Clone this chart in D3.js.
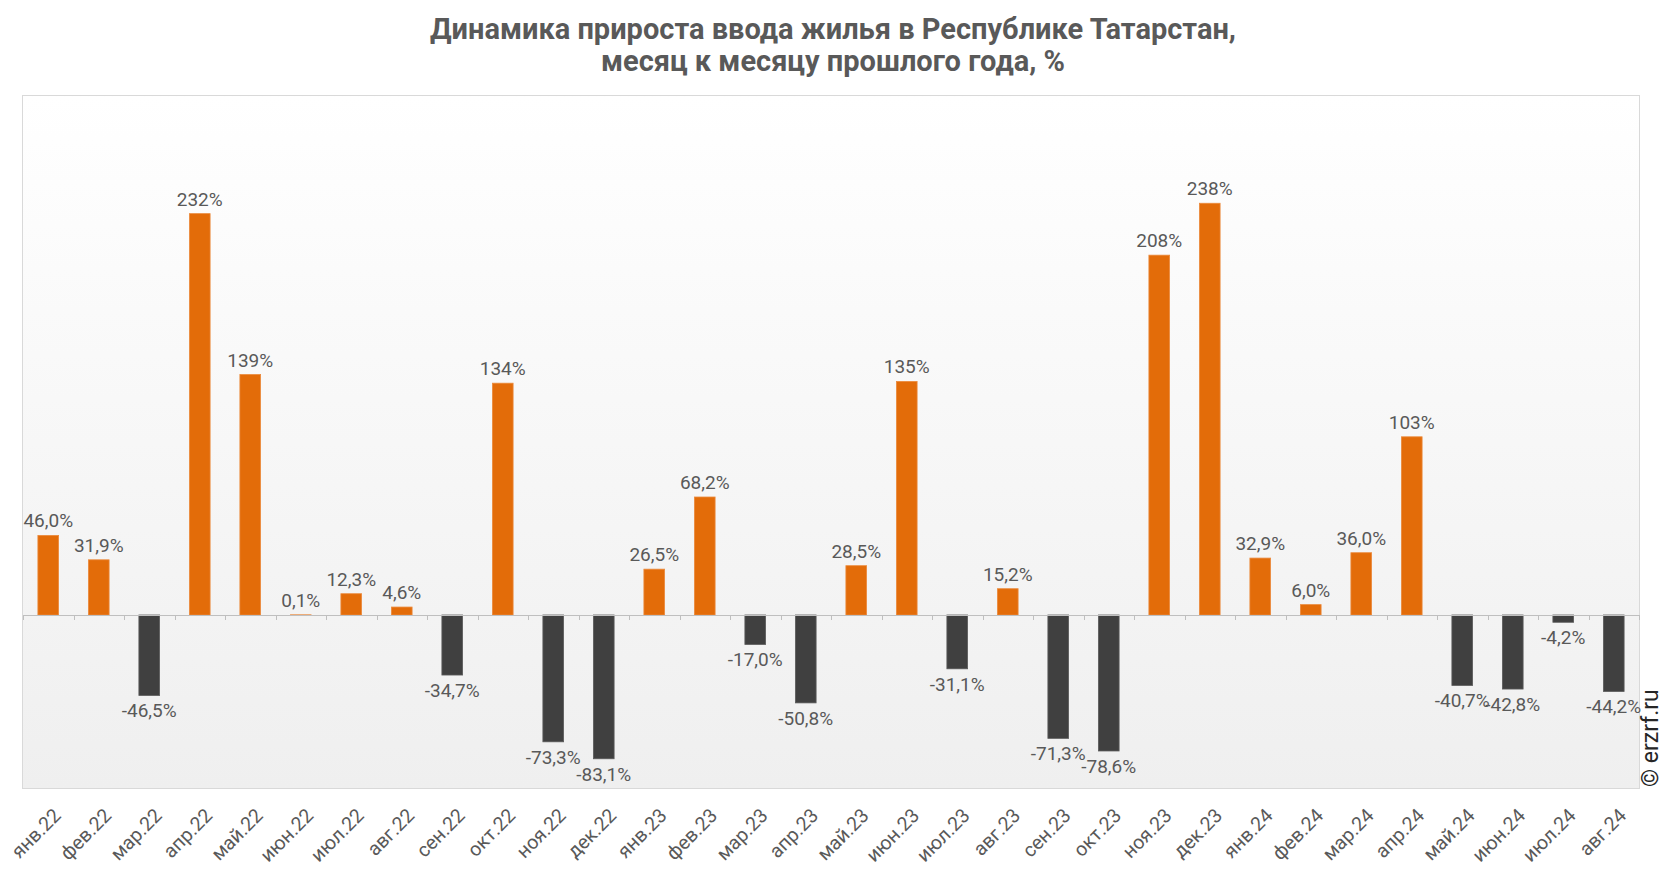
<!DOCTYPE html>
<html><head><meta charset="utf-8">
<script src="https://cdn.jsdelivr.net/npm/d3@7"></script>
<style>html,body{margin:0;padding:0;background:#fff;}svg{display:block;font-family:Roboto,"Noto Sans",sans-serif;}</style>
</head><body>
<svg id="chart" width="1666" height="872"></svg>
<script>
const categories = ["янв.22","фев.22","мар.22","апр.22","май.22","июн.22","июл.22","авг.22","сен.22","окт.22","ноя.22","дек.22",
"янв.23","фев.23","мар.23","апр.23","май.23","июн.23","июл.23","авг.23","сен.23","окт.23","ноя.23","дек.23",
"янв.24","фев.24","мар.24","апр.24","май.24","июн.24","июл.24","авг.24"];
const values = [46.0,31.9,-46.5,232,139,0.1,12.3,4.6,-34.7,134,-73.3,-83.1,
26.5,68.2,-17.0,-50.8,28.5,135,-31.1,15.2,-71.3,-78.6,208,238,
32.9,6.0,36.0,103,-40.7,-42.8,-4.2,-44.2];
const titleLines = ["Динамика прироста ввода жилья в Республике Татарстан,","месяц к месяцу прошлого года, %"];
const yDomain = [-100, 300];

const svg = d3.select("#chart");
const plot = {left: 23, right: 1639, top: 96, bottom: 788};

const defs = svg.append("defs");
const grad = defs.append("linearGradient").attr("id","bg").attr("x1",0).attr("y1",0).attr("x2",0).attr("y2",1);
grad.append("stop").attr("offset","0%").attr("stop-color","#ffffff");
grad.append("stop").attr("offset","100%").attr("stop-color","#efefef");

svg.append("rect").attr("x",plot.left-0.5).attr("y",plot.top-0.5)
  .attr("width",plot.right-plot.left+1).attr("height",plot.bottom-plot.top+1)
  .attr("fill","url(#bg)").attr("stroke","#d9d9d9").attr("stroke-width",1);

const x = d3.scaleBand().domain(categories).range([plot.left, plot.right]).paddingInner(0.59).paddingOuter(0.295);
const y = d3.scaleLinear().domain(yDomain).range([plot.bottom, plot.top]);

// bars
svg.append("g").selectAll("rect").data(values).join("rect")
  .attr("x",(d,i)=>x(categories[i]))
  .attr("width",x.bandwidth())
  .attr("y",d=>y(Math.max(0,d)))
  .attr("height",d=>Math.abs(y(d)-y(0)))
  .attr("fill",d=>d>=0?"#e36c09":"#404040")
  .attr("stroke",d=>d>=0?"#eb8a3c":"#5a5a5a").attr("stroke-width",0.8);

// zero axis with tick marks at category boundaries
const step = x.step();
const axisG = svg.append("g");
axisG.append("line").attr("x1",plot.left).attr("x2",plot.right).attr("y1",y(0)+0.5).attr("y2",y(0)+0.5)
  .attr("stroke","#bfbfbf").attr("stroke-width",1);
axisG.selectAll("line.tk").data(d3.range(categories.length+1)).join("line").attr("class","tk")
  .attr("x1",i=>Math.round(plot.left+i*step)+0.5).attr("x2",i=>Math.round(plot.left+i*step)+0.5)
  .attr("y1",y(0)).attr("y2",y(0)+5).attr("stroke","#bfbfbf").attr("stroke-width",1);

// value labels
const fmt = v => {
  const a = Math.abs(v);
  const s = a >= 100 ? d3.format(".0f")(v) : d3.format(".1f")(v);
  return s.replace(".",",").replace("−","-") + "%";
};
svg.append("g").selectAll("text").data(values).join("text")
  .attr("x",(d,i)=>x(categories[i])+x.bandwidth()/2)
  .attr("y",d=>d>=0 ? y(d)-8 : y(d)+22)
  .attr("text-anchor","middle")
  .attr("font-size",19).attr("fill","#595959")
  .text(d=>fmt(d));

// x category labels
svg.append("g").selectAll("text").data(categories).join("text")
  .attr("transform",d=>`translate(${x(d)+x.bandwidth()/2+4},${plot.bottom+19}) rotate(-45)`)
  .attr("text-anchor","end").attr("dy","0.71em")
  .attr("font-size",19.5).attr("fill","#595959")
  .text(d=>d);

// title
svg.append("g").selectAll("text").data(titleLines).join("text")
  .attr("x",833).attr("y",(d,i)=>38.5+i*32.5)
  .attr("text-anchor","middle").attr("font-size",29).attr("font-weight","bold").attr("fill","#595959")
  .text(d=>d);

// watermark
svg.append("text").attr("transform","translate(1658,787) rotate(-90)")
  .attr("font-size",23).attr("fill","#262626").text("© erzrf.ru");
</script>
</body></html>
